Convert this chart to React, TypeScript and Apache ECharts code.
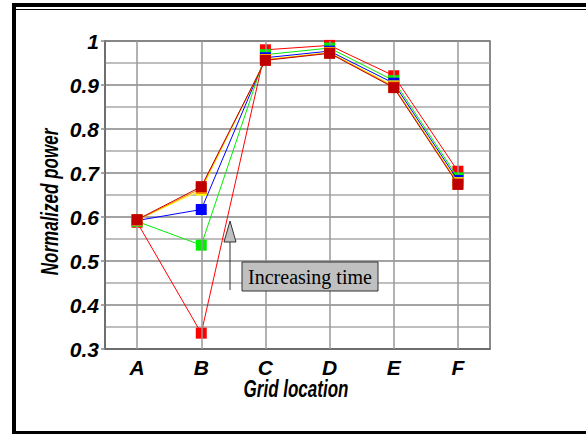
import React, { useEffect, useRef } from "react";
import * as echarts from "echarts";

const categories = ["A", "B", "C", "D", "E", "F"];
const yTicks = [0.3, 0.4, 0.5, 0.6, 0.7, 0.8, 0.9, 1];

const seriesNames = ["t1", "t2", "t3", "t4", "t5", "t6"];
const seriesColors = ["#ff0000", "#00ee00", "#0000ff", "#ffff00", "#ff8000", "#c00000"];
const redValues = [0.588, 0.336, 0.98, 0.99, 0.921, 0.704];
const greenValues = [0.59, 0.536, 0.969, 0.984, 0.91, 0.689];
const blueValues = [0.592, 0.617, 0.962, 0.977, 0.904, 0.683];
const yellowValues = [0.593, 0.661, 0.958, 0.974, 0.898, 0.678];
const orangeValues = [0.593, 0.665, 0.957, 0.973, 0.896, 0.676];
const darkRedValues = [0.594, 0.669, 0.956, 0.972, 0.894, 0.674];
const allValues = [redValues, greenValues, blueValues, yellowValues, orangeValues, darkRedValues];

export default function App() {
  const ref = useRef<HTMLDivElement>(null);
  useEffect(() => {
    if (!ref.current) return;
    const chart = echarts.init(ref.current, undefined, { renderer: "svg" });
    const labelFont = { fontFamily: "'Liberation Sans', Arial, sans-serif", fontWeight: "bold" as const, fontStyle: "italic" as const, fontSize: 21, color: "#000" };
    const lineSeries = allValues.map((vals, i) => ({
      name: seriesNames[i],
      type: "line" as const,
      data: vals,
      symbol: "rect",
      symbolSize: 11,
      z: 3 + i,
      lineStyle: { color: seriesColors[i], width: 1 },
      itemStyle: { color: seriesColors[i] },
    }));
    chart.setOption({
      animation: false,
      backgroundColor: "#fff",
      grid: { left: 105, right: 96, top: 41, bottom: 85, show: true, borderColor: "#666", borderWidth: 1.5 },
      xAxis: {
        type: "category",
        data: categories,
        boundaryGap: true,
        axisLine: { lineStyle: { color: "#666", width: 1.5 } },
        axisTick: { alignWithLabel: true, length: 5, lineStyle: { color: "#888", width: 1.5 } },
        axisLabel: { ...labelFont, margin: 8 },
        splitLine: { show: false },
      },
      yAxis: {
        type: "value",
        min: yTicks[0],
        max: yTicks[yTicks.length - 1],
        interval: 0.1,
        axisLine: { show: true, lineStyle: { color: "#666", width: 1.5 } },
        axisTick: { show: true, length: 4, lineStyle: { color: "#888", width: 1.5 } },
        axisLabel: { ...labelFont, margin: 6, formatter: (v: number) => String(Math.round(v * 10) / 10) },
        splitLine: { lineStyle: { color: "#858585", width: 1.5 } },
        minorTick: { show: false, splitNumber: 2 },
        minorSplitLine: { show: true, lineStyle: { color: "#a8a8a8", width: 1.5 } },
      },
      series: [
        {
          name: "grid",
          type: "line",
          data: categories.map(() => null),
          symbol: "none",
          silent: true,
          z: 1,
          markLine: {
            silent: true,
            symbol: "none",
            label: { show: false },
            lineStyle: { color: "#999", width: 1.5, type: "solid" },
            data: categories.map((c) => ({ xAxis: c })),
          },
        },
        ...lineSeries,
      ],
      graphic: [
        {
          type: "rect",
          shape: { x: 14, y: 5, width: 600, height: 428 },
          style: { fill: "none", stroke: "#000", lineWidth: 4 },
          z: 100,
        },
        {
          type: "line",
          shape: { x1: 16, y1: 9.5, x2: 586, y2: 9.5 },
          style: { stroke: "#000", lineWidth: 1 },
          z: 100,
        },
        {
          type: "text",
          x: 296,
          y: 389,
          scaleX: 0.74,
          style: { text: "Grid location", font: "italic bold 23px 'Liberation Sans', Arial, sans-serif", fill: "#000", textAlign: "center", textVerticalAlign: "middle" },
          z: 100,
        },
        {
          type: "text",
          x: 50,
          y: 202,
          rotation: Math.PI / 2,
          scaleX: 0.74,
          style: { text: "Normalized power", font: "italic bold 23px 'Liberation Sans', Arial, sans-serif", fill: "#000", textAlign: "center", textVerticalAlign: "middle" },
          z: 100,
        },
        {
          type: "line",
          shape: { x1: 230, y1: 290, x2: 230, y2: 242 },
          style: { stroke: "#333", lineWidth: 1 },
          z: 100,
        },
        {
          type: "polygon",
          shape: { points: [[230, 221], [224, 242], [236, 242]] },
          style: { fill: "#c0c0c0", stroke: "#333", lineWidth: 1 },
          z: 100,
        },
        {
          type: "rect",
          shape: { x: 242, y: 262, width: 136, height: 29 },
          style: { fill: "#c0c0c0", stroke: "#333", lineWidth: 1 },
          z: 100,
        },
        {
          type: "text",
          x: 310,
          y: 277,
          style: { text: "Increasing time", font: "20px 'Liberation Serif', 'Times New Roman', serif", fill: "#000", textAlign: "center", textVerticalAlign: "middle" },
          z: 101,
        },
      ],
    });
    return () => chart.dispose();
  }, []);
  return <div ref={ref} style={{ position: "fixed", left: 0, top: 0, width: 586, height: 434 }} />;
}
